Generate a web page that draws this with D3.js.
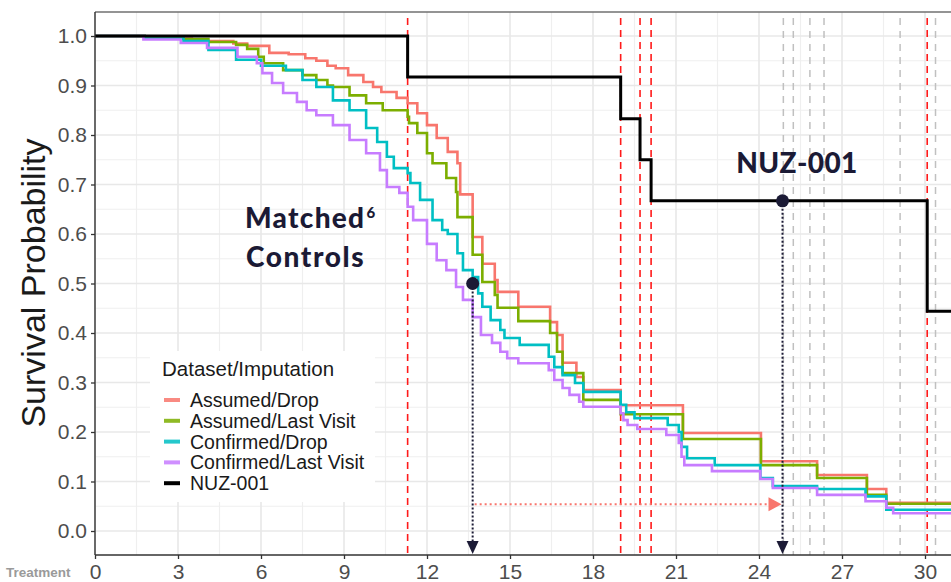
<!DOCTYPE html>
<html><head><meta charset="utf-8">
<script src="https://cdn.jsdelivr.net/npm/d3@7"></script>
<style>html,body{margin:0;padding:0;background:#fff;overflow:hidden}</style>
</head><body>
<svg id="c" width="951" height="582"></svg>
<script>
// ---- data ----
const xTicks = [0,3,6,9,12,15,18,21,24,27,30];
const yTicks = [0.0,0.1,0.2,0.3,0.4,0.5,0.6,0.7,0.8,0.9,1.0];
const seriesNames = ["Assumed/Drop","Assumed/Last Visit","Confirmed/Drop","Confirmed/Last Visit","NUZ-001"];
const seriesColors = ["#F8766D","#7CAE00","#00BFC4","#C77CFF","#000000"];

const assumedDrop = [[0,1],[1.8,0.995],[3.5,0.99],[5.0,0.985],[5.5,0.98],[6.3,0.966],[7.0,0.963],[7.6,0.955],[8.0,0.95],[8.4,0.94],[8.7,0.935],[9.15,0.921],[9.7,0.907],[10.05,0.897],[10.35,0.887],[10.9,0.875],[11.3,0.864],[11.65,0.844],[12.0,0.82],[12.35,0.794],[12.75,0.766],[13.1,0.743],[13.2,0.68],[13.65,0.594],[14.0,0.54],[14.45,0.507],[14.55,0.483],[15.3,0.453],[16.45,0.422],[16.7,0.396],[16.9,0.34],[17.4,0.311],[17.65,0.285],[19.0,0.254],[21.25,0.198],[24.07,0.141],[26.1,0.113],[27.9,0.085],[28.6,0.057],[31,0.057]];
const assumedLast = [[0,1],[1.8,0.995],[3.2,0.994],[4.1,0.988],[5.1,0.982],[5.5,0.974],[5.9,0.958],[6.1,0.945],[6.8,0.931],[7.5,0.921],[8.0,0.911],[8.4,0.9],[8.6,0.897],[9.2,0.88],[9.8,0.864],[10.4,0.85],[11.3,0.837],[11.35,0.824],[11.65,0.804],[12.0,0.763],[12.2,0.743],[12.7,0.713],[13.05,0.685],[13.1,0.634],[13.65,0.558],[14.0,0.503],[14.45,0.477],[14.55,0.451],[15.3,0.424],[16.45,0.4],[16.7,0.362],[16.9,0.319],[17.65,0.265],[19.0,0.236],[21.25,0.186],[24.07,0.133],[26.1,0.107],[27.9,0.073],[28.6,0.055],[31,0.055]];
const confirmedDrop = [[0,1],[1.8,0.995],[3.2,0.99],[4.1,0.972],[5.1,0.952],[6.0,0.94],[6.9,0.931],[7.5,0.911],[8.0,0.897],[8.6,0.87],[9.2,0.85],[9.8,0.814],[10.2,0.786],[10.55,0.756],[10.8,0.733],[11.3,0.723],[11.4,0.703],[11.75,0.669],[12.2,0.628],[12.55,0.608],[12.75,0.6],[13.1,0.561],[13.3,0.527],[13.65,0.513],[13.85,0.48],[14.0,0.453],[14.3,0.426],[14.65,0.406],[14.8,0.39],[15.35,0.376],[16.4,0.352],[16.6,0.331],[16.9,0.315],[17.35,0.299],[17.65,0.281],[19.0,0.255],[19.2,0.24],[19.5,0.228],[20.7,0.214],[21.1,0.2],[21.2,0.17],[21.4,0.147],[22.4,0.133],[24.05,0.107],[24.5,0.091],[26.1,0.085],[27.85,0.07],[28.6,0.043],[31,0.043]];
const confirmedLast = [[0,1],[1.75,0.993],[3.1,0.986],[4.05,0.976],[5.15,0.958],[5.85,0.945],[6.05,0.925],[6.4,0.905],[6.8,0.885],[7.3,0.867],[7.65,0.85],[8.0,0.84],[8.6,0.82],[9.2,0.79],[9.8,0.763],[10.3,0.729],[10.55,0.695],[11.0,0.683],[11.3,0.655],[11.5,0.628],[12.0,0.58],[12.35,0.547],[12.7,0.527],[13.05,0.493],[13.3,0.467],[13.65,0.432],[13.95,0.396],[14.35,0.38],[14.65,0.362],[14.9,0.349],[15.3,0.339],[16.4,0.325],[16.6,0.305],[16.9,0.289],[17.15,0.275],[17.5,0.261],[17.65,0.251],[19.0,0.238],[19.1,0.224],[19.25,0.214],[19.6,0.206],[20.65,0.194],[21.1,0.178],[21.2,0.15],[21.3,0.133],[22.3,0.121],[24.05,0.105],[24.5,0.087],[26.1,0.073],[27.85,0.06],[28.6,0.047],[28.85,0.036],[31,0.036]];
const nuz001 = [[0,1],[11.3,0.917],[19.0,0.833],[19.7,0.75],[20.1,0.667],[30.08,0.444],[31,0.444]];

const redVlines = [11.3,19.0,19.7,20.1,30.08];
const grayVlines = [24.88,25.24,25.84,26.35,29.1,30.38];
const medianPoints = [[13.65,0.5],[24.85,0.667]];
const gainArrow = {from:13.65, to:24.85, y:0.054};

// ---- layout ----
const svg = d3.select("#c");
const P = {left:95, top:12, bottom:555, right:951};
const x = d3.scaleLinear().domain([0,31]).range([95, 95+31*83/3]);
const y = d3.scaleLinear().domain([0,1]).range([531,36]);

// grid
const g = svg.append("g");
const minorX = d3.range(1.5,31,3), minorY = d3.range(0.05,1.0,0.1);
g.selectAll(".mx").data(minorX).join("line").attr("x1",d=>x(d)).attr("x2",d=>x(d)).attr("y1",P.top).attr("y2",P.bottom).attr("stroke","#efefef").attr("stroke-width",1.2);
g.selectAll(".my").data(minorY).join("line").attr("x1",P.left).attr("x2",P.right).attr("y1",d=>y(d)).attr("y2",d=>y(d)).attr("stroke","#efefef").attr("stroke-width",1.2);
g.selectAll(".Mx").data(xTicks).join("line").attr("x1",d=>x(d)).attr("x2",d=>x(d)).attr("y1",P.top).attr("y2",P.bottom).attr("stroke","#e8e8e8").attr("stroke-width",1.6);
g.selectAll(".My").data(yTicks).join("line").attr("x1",P.left).attr("x2",P.right).attr("y1",d=>y(d)).attr("y2",d=>y(d)).attr("stroke","#e8e8e8").attr("stroke-width",1.6);

// vlines
svg.append("g").selectAll("line").data(grayVlines).join("line").attr("x1",d=>x(d)).attr("x2",d=>x(d)).attr("y1",P.top+6).attr("y2",P.bottom).attr("stroke","#c0c0c0").attr("stroke-width",1.5).attr("stroke-dasharray","7,6");
svg.append("g").selectAll("line").data(redVlines).join("line").attr("x1",d=>x(d)).attr("x2",d=>x(d)).attr("y1",P.top+6).attr("y2",P.bottom).attr("stroke","#ff1a1a").attr("stroke-width",1.6).attr("stroke-dasharray","7,5");

// curves
const line = d3.line().x(d=>x(d[0])).y(d=>y(d[1])).curve(d3.curveStepAfter);
const allSeries = [assumedDrop, assumedLast, confirmedDrop, confirmedLast];
[0,1,2,3].forEach(i=>{
  svg.append("path").attr("d",line(allSeries[i])).attr("fill","none").attr("stroke",seriesColors[i]).attr("stroke-width",2.6);
});
svg.append("path").attr("d",line(nuz001)).attr("fill","none").attr("stroke","#000").attr("stroke-width",3);

// annotation arrows
const navy = "#1b1a35";
medianPoints.forEach(p=>{
  svg.append("line").attr("x1",x(p[0])).attr("x2",x(p[0])).attr("y1",y(p[1])).attr("y2",P.bottom-10).attr("stroke",navy).attr("stroke-width",2).attr("stroke-dasharray","2,2");
  const cx = x(p[0]);
  svg.append("path").attr("d",`M${cx-6},${P.bottom-14}L${cx+6},${P.bottom-14}L${cx},${P.bottom-1}Z`).attr("fill",navy);
  svg.append("circle").attr("cx",cx).attr("cy",y(p[1])).attr("r",6.5).attr("fill",navy);
});
const ay = y(gainArrow.y), ax0 = x(gainArrow.from), ax1 = x(gainArrow.to);
svg.append("line").attr("x1",ax0+2).attr("x2",ax1-14).attr("y1",ay).attr("y2",ay).attr("stroke","#F8766D").attr("stroke-width",2).attr("stroke-dasharray","2,3");
svg.append("path").attr("d",`M${ax1-14},${ay-7}L${ax1-14},${ay+7}L${ax1-1},${ay}Z`).attr("fill","#F8766D");

// axes lines
svg.append("line").attr("x1",P.left).attr("x2",P.right).attr("y1",P.top).attr("y2",P.top).attr("stroke","#707070").attr("stroke-width",1.4);
svg.append("line").attr("x1",P.left).attr("x2",P.left).attr("y1",P.top).attr("y2",P.bottom).attr("stroke","#333").attr("stroke-width",1.4);
svg.append("line").attr("x1",P.left).attr("x2",P.right).attr("y1",P.bottom).attr("y2",P.bottom).attr("stroke","#333").attr("stroke-width",1.4);

const xAxis = svg.append("g").attr("transform",`translate(0,${P.bottom})`).call(d3.axisBottom(x).tickValues(xTicks).tickSize(4).tickPadding(6).tickFormat(d3.format("d")));
const yAxis = svg.append("g").attr("transform",`translate(${P.left},0)`).call(d3.axisLeft(y).tickValues(yTicks).tickSize(4).tickPadding(4).tickFormat(d3.format(".1f")));
[xAxis,yAxis].forEach(a=>{
  a.select(".domain").remove();
  a.selectAll(".tick line").attr("stroke","#333").attr("stroke-width",1.3);
  a.selectAll("text").attr("fill","#4D4D4D").style("font-family","'Liberation Sans',Arial,sans-serif").style("font-size","21px");
});
xAxis.selectAll("text").attr("dy","0.71em").attr("y",9);

svg.append("text").attr("transform",`translate(45,283) rotate(-90)`).attr("text-anchor","middle")
  .style("font-family","'Liberation Sans',Arial,sans-serif").style("font-size","34px").attr("fill","#1a1a1a").text("Survival Probability");

svg.append("text").attr("x",6).attr("y",577).style("font-family","'Liberation Sans',Arial,sans-serif").style("font-size","13.5px").style("font-weight","bold").attr("fill","#9a9a9a").text("Treatment");

// labels
const lf = "Lato,'Noto Sans',sans-serif";
const m = svg.append("text").attr("x",245).attr("y",228).style("font-family",lf).style("font-weight","900").style("font-size","28px").style("letter-spacing","1.3px").attr("fill",navy);
m.append("tspan").text("Matched");
m.append("tspan").attr("dy",-10).attr("dx",1).style("font-size","15px").text("6");
svg.append("text").attr("x",246).attr("y",267).style("font-family",lf).style("font-weight","900").style("font-size","28px").style("letter-spacing","1.6px").attr("fill",navy).text("Controls");
svg.append("text").attr("x",797).attr("y",173).attr("text-anchor","middle").style("font-family",lf).style("font-weight","900").style("font-size","28px").style("letter-spacing","0.4px").attr("fill",navy).text("NUZ-001");

// legend
const lg = svg.append("g");
lg.append("rect").attr("x",150).attr("y",351).attr("width",225).attr("height",151).attr("fill","#fff");
lg.append("text").attr("x",162).attr("y",376).style("font-family","'Liberation Sans',Arial,sans-serif").style("font-size","20.5px").attr("fill","#1a1a1a").text("Dataset/Imputation");
seriesNames.forEach((n,i)=>{
  const by = 407 + i*20.8;
  lg.append("line").attr("x1",164).attr("x2",180).attr("y1",by-7).attr("y2",by-7).attr("stroke",seriesColors[i]).attr("stroke-width",4).attr("opacity",i<4?0.85:1);
  lg.append("text").attr("x",190).attr("y",by).style("font-family","'Liberation Sans',Arial,sans-serif").style("font-size","19.5px").attr("fill","#1a1a1a").text(n);
});
</script>
</body></html>
